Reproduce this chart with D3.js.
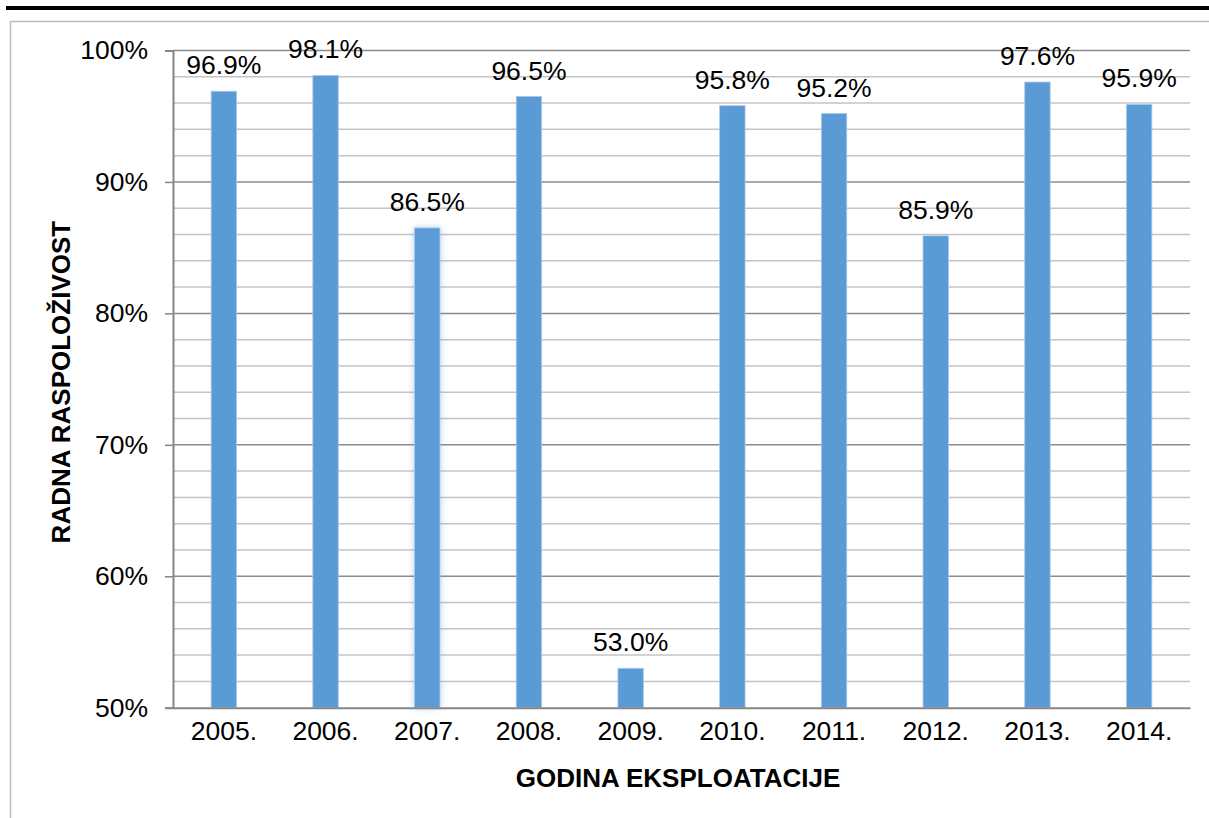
<!DOCTYPE html>
<html>
<head>
<meta charset="utf-8">
<script src="https://cdn.jsdelivr.net/npm/d3@7/dist/d3.min.js"></script>
<style>
  html, body { margin: 0; padding: 0; background: #fff; }
  svg { display: block; font-family: "Liberation Sans", Arial, sans-serif; }
</style>
</head>
<body>
<svg id="chart" width="1209" height="818"></svg>
<script>
const years = ["2005.", "2006.", "2007.", "2008.", "2009.", "2010.", "2011.", "2012.", "2013.", "2014."];
const availability = [96.9, 98.1, 86.5, 96.5, 53.0, 95.8, 95.2, 85.9, 97.6, 95.9];
const majorTicks = [50, 60, 70, 80, 90, 100];
const minorTicks = [52, 54, 56, 58, 62, 64, 66, 68, 72, 74, 76, 78, 82, 84, 86, 88, 92, 94, 96, 98];
const yTitle = "RADNA RASPOLOŽIVOST";
const xTitle = "GODINA EKSPLOATACIJE";

const svg = d3.select("#chart");
const pLeft = 173, pRight = 1190, pTop = 50.5, pBottom = 707.7;
const fs = 26.5;

// decorative top rule and frame
svg.append("rect").attr("x", 6).attr("y", 6).attr("width", 1203).attr("height", 4).attr("fill", "#000");
svg.append("rect").attr("x", 10.5).attr("y", 21.5).attr("width", 1210).attr("height", 820)
  .attr("fill", "none").attr("stroke", "#bcbcbc").attr("stroke-width", 1.5);

const x = d3.scaleBand().domain(years).range([pLeft, pRight]).paddingInner(0.75).paddingOuter(0.375);
const y = d3.scaleLinear().domain([50, 100]).range([pBottom, pTop]);

// glow filter for 2007 bar
const defs = svg.append("defs");
const f = defs.append("filter").attr("id", "glow").attr("x", "-50%").attr("y", "-10%").attr("width", "200%").attr("height", "120%");
f.append("feGaussianBlur").attr("in", "SourceAlpha").attr("stdDeviation", 3.5).attr("result", "b");
f.append("feFlood").attr("flood-color", "#5B9BD5").attr("flood-opacity", 0.45);
f.append("feComposite").attr("in2", "b").attr("operator", "in").attr("result", "g");
const fm = f.append("feMerge");
fm.append("feMergeNode").attr("in", "g");
fm.append("feMergeNode").attr("in", "SourceGraphic");

// minor gridlines
svg.append("g").selectAll("line").data(minorTicks).join("line")
  .attr("x1", pLeft).attr("x2", pRight)
  .attr("y1", d => y(d)).attr("y2", d => y(d))
  .attr("stroke", "#c4c4c4").attr("stroke-width", 1.5);

// major gridlines
svg.append("g").selectAll("line").data(majorTicks.filter(d => d > 50)).join("line")
  .attr("x1", pLeft).attr("x2", pRight)
  .attr("y1", d => y(d)).attr("y2", d => y(d))
  .attr("stroke", "#8c8c8c").attr("stroke-width", 1.5);

// bars
svg.append("g").selectAll("rect").data(availability).join("rect")
  .attr("x", (d, i) => x(years[i]))
  .attr("width", x.bandwidth())
  .attr("y", d => y(d))
  .attr("height", d => y(50) - y(d))
  .attr("fill", "#5B9BD5")
  .attr("stroke", "#a9c9ea").attr("stroke-width", 0.8)
  .attr("filter", (d, i) => i === 2 ? "url(#glow)" : null);

// y axis
const yAxis = d3.axisLeft(y).tickValues(majorTicks).tickSize(8).tickPadding(17).tickFormat(d => d + "%");
const gy = svg.append("g").attr("transform", `translate(${pLeft},0)`).call(yAxis);
gy.select(".domain").attr("stroke", "#868686").attr("stroke-width", 2);
gy.selectAll(".tick line").attr("stroke", "#868686").attr("stroke-width", 1.5);
gy.selectAll(".tick text").attr("font-size", fs).attr("fill", "#000").attr("font-family", "Liberation Sans, Arial, sans-serif");

// x axis
const xAxis = d3.axisBottom(x).tickSize(0).tickPadding(13);
const gx = svg.append("g").attr("transform", `translate(0,${pBottom})`).call(xAxis);
gx.select(".domain").attr("stroke", "#868686").attr("stroke-width", 2);
gx.selectAll(".tick text").attr("font-size", fs).attr("fill", "#000").attr("font-family", "Liberation Sans, Arial, sans-serif");

// value labels
svg.append("g").selectAll("text").data(availability).join("text")
  .attr("x", (d, i) => x(years[i]) + x.bandwidth() / 2)
  .attr("y", d => y(d) - 17)
  .attr("text-anchor", "middle")
  .attr("font-size", fs)
  .attr("fill", "#000")
  .text(d => d.toFixed(1) + "%");

// axis titles
svg.append("text")
  .attr("transform", `translate(70,${(pTop + pBottom) / 2 + 3}) rotate(-90)`)
  .attr("text-anchor", "middle")
  .attr("font-size", 26).attr("font-weight", "bold")
  .text(yTitle);

svg.append("text")
  .attr("x", 678).attr("y", 787)
  .attr("text-anchor", "middle")
  .attr("font-size", 26).attr("font-weight", "bold")
  .text(xTitle);
</script>
</body>
</html>
